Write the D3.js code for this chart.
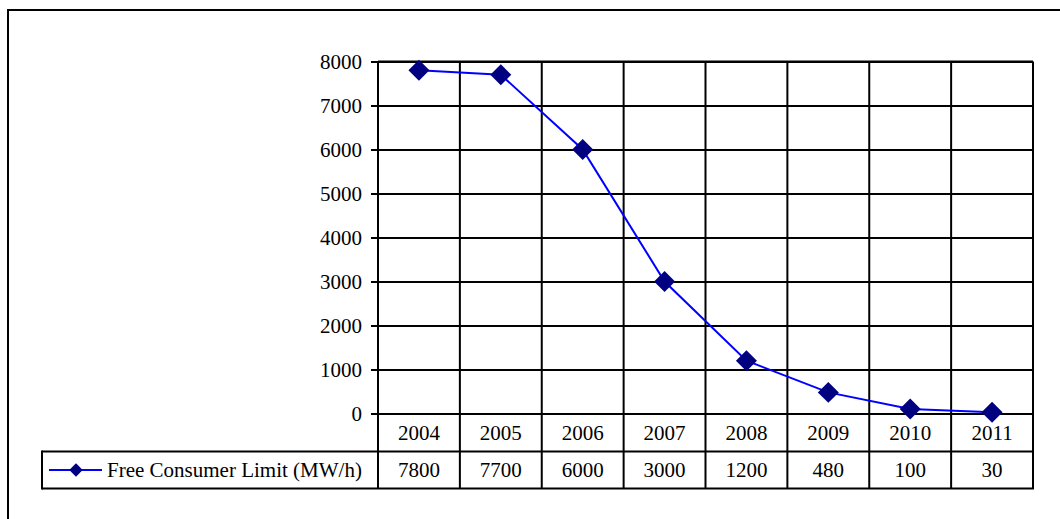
<!DOCTYPE html>
<html>
<head>
<meta charset="utf-8">
<script src="https://cdn.jsdelivr.net/npm/d3@7"></script>
<style>
  body { margin: 0; background: #fff; }
  svg { display: block; font-family: "Liberation Serif", "Times New Roman", serif; }
</style>
</head>
<body>
<svg id="chart" width="1060" height="519"></svg>
<script>
// chart data
const years = ['2004', '2005', '2006', '2007', '2008', '2009', '2010', '2011'];
const limits = [7800, 7700, 6000, 3000, 1200, 480, 100, 30];
const yTicks = [0, 1000, 2000, 3000, 4000, 5000, 6000, 7000, 8000];
const seriesName = 'Free Consumer Limit (MW/h)';

const svg = d3.select('#chart');
const FONT = '"Liberation Serif", "Times New Roman", serif';
const FS = 21;

// outer frame (runs off the right / bottom edge)
svg.append('rect')
  .attr('x', 8).attr('y', 10)
  .attr('width', 1100).attr('height', 600)
  .attr('fill', 'none').attr('stroke', '#000').attr('stroke-width', 2);

const pLeft = 378, pRight = 1033, pTop = 61.5, pBottom = 413.5;
const rowH = 38, rowH2 = 37;

const x = d3.scaleBand().domain(years).range([pLeft, pRight]);
const y = d3.scaleLinear().domain([0, 8000]).range([pBottom, pTop]);

// horizontal gridlines + y axis ticks
const yAxis = d3.axisLeft(y).tickValues(yTicks).tickFormat(d3.format('d')).tickSizeOuter(0);
const gy = svg.append('g')
  .attr('transform', `translate(${pRight},0)`)
  .call(yAxis)
  .attr('font-family', FONT).attr('font-size', FS);
gy.select('.domain').remove();
gy.selectAll('line').attr('stroke', '#000').attr('stroke-width', 2)
  .attr('x1', 0).attr('x2', -(pRight - pLeft) - 7);
gy.selectAll('text')
  .attr('x', -(pRight - pLeft) - 16)
  .attr('dy', '0.33em')
  .attr('fill', '#000');

// vertical lines through plot and table
const vx = years.map(d => x(d)).concat([pRight]);
svg.append('g').selectAll('line').data(vx).join('line')
  .attr('x1', d => d).attr('x2', d => d)
  .attr('y1', pTop).attr('y2', pBottom + rowH + rowH2)
  .attr('stroke', '#000').attr('stroke-width', 2);

// table rows
const tbl = svg.append('g').attr('font-family', FONT).attr('font-size', FS);
tbl.append('line').attr('x1', pLeft).attr('x2', pRight).attr('y1', pTop).attr('y2', pTop)
  .attr('stroke', '#000').attr('stroke-width', 2);
tbl.append('line').attr('x1', 42).attr('x2', pRight)
  .attr('y1', pBottom + rowH).attr('y2', pBottom + rowH)
  .attr('stroke', '#000').attr('stroke-width', 2);
tbl.append('line').attr('x1', 42).attr('x2', pRight + 1)
  .attr('y1', pBottom + rowH + rowH2).attr('y2', pBottom + rowH + rowH2)
  .attr('stroke', '#000').attr('stroke-width', 2);
tbl.append('line').attr('x1', 42).attr('x2', 42)
  .attr('y1', pBottom + rowH - 1).attr('y2', pBottom + rowH + rowH2 + 1)
  .attr('stroke', '#000').attr('stroke-width', 2);

tbl.selectAll('text.yr').data(years).join('text')
  .attr('class', 'yr')
  .attr('x', d => x(d) + x.bandwidth() / 2)
  .attr('y', pBottom + rowH / 2 + 7)
  .attr('text-anchor', 'middle')
  .text(d => d);

tbl.selectAll('text.val').data(limits).join('text')
  .attr('class', 'val')
  .attr('x', (d, i) => x(years[i]) + x.bandwidth() / 2)
  .attr('y', pBottom + rowH + rowH2 / 2 + 7)
  .attr('text-anchor', 'middle')
  .text(d => d);

// legend key
const ly = pBottom + rowH + rowH2 / 2;
tbl.append('line').attr('x1', 49).attr('x2', 102).attr('y1', ly).attr('y2', ly)
  .attr('stroke', '#0000ff').attr('stroke-width', 2);
tbl.append('path').attr('d', d3.symbol(d3.symbolSquare, 90)())
  .attr('transform', `translate(76,${ly}) rotate(45)`)
  .attr('fill', '#000080');
tbl.append('text').attr('x', 107).attr('y', ly + 7)
  .text(seriesName);

// series line + markers
const line = d3.line()
  .x((d, i) => x(years[i]) + x.bandwidth() / 2)
  .y(d => y(d));
svg.append('path').datum(limits)
  .attr('d', line).attr('fill', 'none')
  .attr('stroke', '#0000ff').attr('stroke-width', 2);
svg.append('g').selectAll('path').data(limits).join('path')
  .attr('d', d3.symbol(d3.symbolSquare, 220)())
  .attr('transform', (d, i) => `translate(${x(years[i]) + x.bandwidth() / 2},${y(d)}) rotate(45)`)
  .attr('fill', '#000080');
</script>
</body>
</html>
